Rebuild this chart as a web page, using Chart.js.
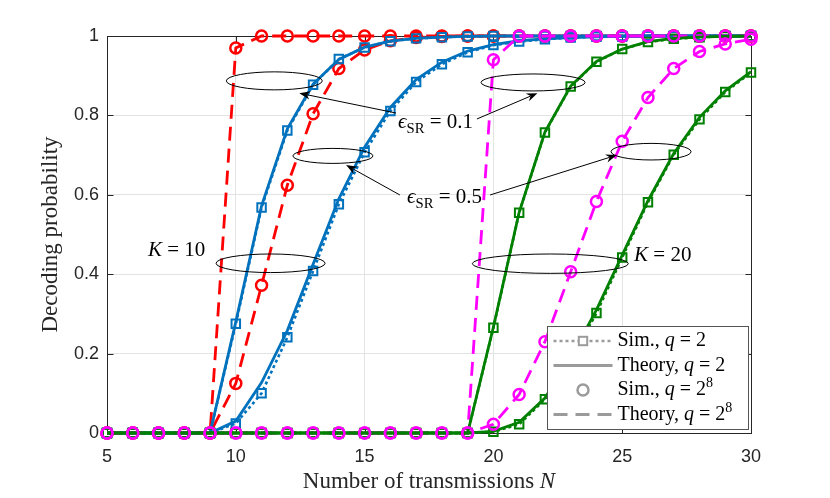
<!DOCTYPE html>
<html><head><meta charset="utf-8">
<script src="https://cdn.jsdelivr.net/npm/chart.js@4.4.0/dist/chart.umd.min.js"></script>
<style>html,body{margin:0;padding:0;background:#fff;}canvas{display:block;}</style>
</head><body>
<canvas id="c" width="830" height="498"></canvas>
<script>
// ---------- data ----------
const N = [5,6,7,8,9,10,11,12,13,14,15,16,17,18,19,20,21,22,23,24,25,26,27,28,29,30];
const xTicks = [5,10,15,20,25,30];
const yTicks = [0,0.2,0.4,0.6,0.8,1];
const yTickLabels = ['0','0.2','0.4','0.6','0.8','1'];

// K = 10, q = 2^8 (theory dashed, sim circles)
const k10q256e01Theory = [0,0,0,0,0,0.97,1,1,1,1,1,1,1,1,1,1,1,1,1,1,1,1,1,1,1,1];
const k10q256e01Sim    = [0,0,0,0,0,0.97,1,1,1,1,1,1,1,1,1,1,1,1,1,1,1,1,1,1,1,1];
const k10q256e05Theory = [0,0,0,0,0,0.125,0.372,0.624,0.804,0.918,0.965,0.988,0.996,0.999,1,1,1,1,1,1,1,1,1,1,1,1];
const k10q256e05Sim    = [0,0,0,0,0,0.125,0.372,0.624,0.804,0.918,0.965,0.988,0.996,0.999,1,1,1,1,1,1,1,1,1,1,1,1];
// K = 10, q = 2 (theory solid, sim dotted squares)
const k10q2e01Theory = [0,0,0,0,0,0.28,0.572,0.766,0.879,0.941,0.972,0.987,0.994,0.997,0.999,1,1,1,1,1,1,1,1,1,1,1];
const k10q2e01Sim    = [0,0,0,0,0,0.275,0.568,0.762,0.877,0.942,0.971,0.987,0.994,0.997,0.999,1,1,1,1,1,1,1,1,1,1,1];
const k10q2e05Theory = [0,0,0,0,0,0.03,0.127,0.258,0.425,0.59,0.72,0.82,0.89,0.934,0.962,0.978,0.988,0.993,0.996,0.998,0.999,1,1,1,1,1];
const k10q2e05Sim    = [0,0,0,0,0,0.024,0.10,0.241,0.408,0.576,0.707,0.811,0.884,0.929,0.959,0.977,0.986,0.992,0.996,0.998,0.999,1,1,1,1,1];
// K = 20, q = 2^8
const k20q256e01Theory = [0,0,0,0,0,0,0,0,0,0,0,0,0,0,0,0.94,1,1,1,1,1,1,1,1,1,1];
const k20q256e01Sim    = [0,0,0,0,0,0,0,0,0,0,0,0,0,0,0,0.94,1,1,1,1,1,1,1,1,1,1];
const k20q256e05Theory = [0,0,0,0,0,0,0,0,0,0,0,0,0,0,0,0.022,0.097,0.23,0.406,0.583,0.735,0.845,0.918,0.961,0.98,0.992];
const k20q256e05Sim    = [0,0,0,0,0,0,0,0,0,0,0,0,0,0,0,0.022,0.097,0.23,0.406,0.583,0.735,0.845,0.918,0.961,0.98,0.992];
// K = 20, q = 2
const k20q2e01Theory = [0,0,0,0,0,0,0,0,0,0,0,0,0,0,0,0.267,0.556,0.758,0.874,0.936,0.967,0.986,0.994,0.997,0.999,1];
const k20q2e01Sim    = [0,0,0,0,0,0,0,0,0,0,0,0,0,0,0,0.265,0.555,0.757,0.873,0.935,0.967,0.985,0.993,0.997,0.999,1];
const k20q2e05Theory = [0,0,0,0,0,0,0,0,0,0,0,0,0,0,0,0.004,0.027,0.088,0.19,0.31,0.448,0.585,0.704,0.795,0.862,0.91];
const k20q2e05Sim    = [0,0,0,0,0,0,0,0,0,0,0,0,0,0,0,0.003,0.022,0.085,0.185,0.302,0.442,0.581,0.701,0.79,0.859,0.908];

const RED='#ff0000', BLUE='#0072bd', MAG='#ff00ff', GREEN='#008000', GRAY='#9b9b9b', AX='#262626';
const SERIF='"Liberation Serif","DejaVu Serif",serif';

// annotations (data coordinates)
const ellipses = [
  {x:11.495,y:0.887,rx:1.863,ry:0.0227},
  {x:13.77,y:0.698,rx:1.553,ry:0.0189},
  {x:11.35,y:0.4275,rx:2.116,ry:0.0234},
  {x:21.54,y:0.883,rx:2.019,ry:0.0214},
  {x:26.12,y:0.7086,rx:1.553,ry:0.0209},
  {x:22.21,y:0.4265,rx:3.028,ry:0.0244}
];
const arrows = [
  {x1:16.22,y1:0.806,x2:12.465,y2:0.856},
  {x1:19.36,y1:0.791,x2:21.71,y2:0.856},
  {x1:16.37,y1:0.5995,x2:14.28,y2:0.675},
  {x1:19.87,y1:0.5995,x2:24.79,y2:0.700}
];
const labels = [
  {x:6.59,y:0.446,segs:[['K','i',1,0],[' = 10','n',1,0]]},
  {x:25.46,y:0.434,segs:[['K','i',1,0],[' = 20','n',1,0]]},
  {x:16.30,y:0.768,segs:[['ϵ','i',1,0],['SR','n',0.7,0.22],[' = 0.1','n',1,0]]},
  {x:16.65,y:0.579,segs:[['ϵ','i',1,0],['SR','n',0.7,0.22],[' = 0.5','n',1,0]]}
];
const legendItems = [
  {kind:'simSq', segs:[['Sim., ','n',1,0],['q','i',1,0],[' = 2','n',1,0]]},
  {kind:'solid', segs:[['Theory, ','n',1,0],['q','i',1,0],[' = 2','n',1,0]]},
  {kind:'circ',  segs:[['Sim., ','n',1,0],['q','i',1,0],[' = 2','n',1,0],['8','n',0.7,-0.38]]},
  {kind:'dash',  segs:[['Theory, ','n',1,0],['q','i',1,0],[' = 2','n',1,0],['8','n',0.7,-0.38]]}
];

// ---------- datasets ----------
const pts = v => N.map((n,i)=>({x:n,y:v[i]}));
const DASH=[14,8], DOT=[3,3];
function theory(v,c,dash){return {data:pts(v),borderColor:c,borderWidth:2.8,borderDash:dash||[],pointRadius:0,pointHoverRadius:0,fill:false,tension:0,clip:false};}
function simSq(v,c){return {data:pts(v),borderColor:c,borderWidth:2.6,borderDash:DOT,pointStyle:'rect',pointRadius:6,pointHoverRadius:6,pointBorderWidth:2,pointBorderColor:c,pointBackgroundColor:'rgba(0,0,0,0)',fill:false,tension:0,clip:false};}
function simCirc(v,c){return {data:pts(v),showLine:false,borderColor:c,pointStyle:'circle',pointRadius:5.5,pointHoverRadius:5.5,pointBorderWidth:2.5,pointBorderColor:c,pointBackgroundColor:'rgba(0,0,0,0)',clip:false};}

// bottom -> top
const drawOrder = [
  theory(k10q256e01Theory,RED,DASH), theory(k10q256e05Theory,RED,DASH),
  simCirc(k10q256e01Sim,RED), simCirc(k10q256e05Sim,RED),
  theory(k10q2e01Theory,BLUE), simSq(k10q2e01Sim,BLUE),
  theory(k10q2e05Theory,BLUE), simSq(k10q2e05Sim,BLUE),
  theory(k20q256e01Theory,MAG,DASH), theory(k20q256e05Theory,MAG,DASH),
  theory(k20q2e01Theory,GREEN), simSq(k20q2e01Sim,GREEN),
  theory(k20q2e05Theory,GREEN), simSq(k20q2e05Sim,GREEN),
  simCirc(k20q256e01Sim,MAG), simCirc(k20q256e05Sim,MAG)
];
const datasets = drawOrder.slice().reverse();

// ---------- helpers ----------
function fontOf(s,size){return (s[1]==='i'?'italic ':'')+(size*s[2]).toFixed(2)+'px '+SERIF;}
function rich(ctx,segs,x,y,size,align){
  const w = segs.map(s=>{ctx.font=fontOf(s,size);return ctx.measureText(s[0]).width;});
  const tot = w.reduce((a,b)=>a+b,0);
  let cx = align==='center'? x-tot/2 : x;
  ctx.textAlign='left'; ctx.textBaseline='alphabetic';
  segs.forEach((s,i)=>{ctx.font=fontOf(s,size);ctx.fillText(s[0],cx,y+s[3]*size);cx+=w[i];});
}
function arrow(ctx,x1,y1,x2,y2){
  const ang=Math.atan2(y2-y1,x2-x1), L=11, W=4.2, back=7.5;
  const bx=x2-L*Math.cos(ang), by=y2-L*Math.sin(ang);
  const nx=x2-back*Math.cos(ang), ny=y2-back*Math.sin(ang);
  ctx.beginPath();ctx.moveTo(x1,y1);ctx.lineTo(nx,ny);ctx.stroke();
  ctx.beginPath();ctx.moveTo(x2,y2);
  ctx.lineTo(bx-W*Math.sin(ang),by+W*Math.cos(ang));
  ctx.lineTo(nx,ny);
  ctx.lineTo(bx+W*Math.sin(ang),by-W*Math.cos(ang));
  ctx.closePath();ctx.fill();
}

const boxPlugin = {
  id:'box',
  beforeDatasetsDraw(chart){
    const {ctx,chartArea:a,scales:{x,y}}=chart;
    ctx.save();ctx.strokeStyle=AX;ctx.lineWidth=1;
    const L=Math.round(a.left)+0.5,R=Math.round(a.right)+0.5,T=Math.round(a.top)+0.5,B=Math.round(a.bottom)+0.5;
    ctx.strokeRect(L,T,R-L,B-T);
    const tl=6;
    ctx.beginPath();
    x.ticks.forEach(t=>{const p=Math.round(x.getPixelForValue(t.value))+0.5;ctx.moveTo(p,B);ctx.lineTo(p,B-tl);ctx.moveTo(p,T);ctx.lineTo(p,T+tl);});
    y.ticks.forEach(t=>{const p=Math.round(y.getPixelForValue(t.value))+0.5;ctx.moveTo(L,p);ctx.lineTo(L+tl,p);ctx.moveTo(R,p);ctx.lineTo(R-tl,p);});
    ctx.stroke();ctx.restore();
  },
  afterDraw(chart){
    const {ctx,chartArea:a,scales:{x,y}}=chart;
    ctx.save();
    // x-axis title
    ctx.fillStyle=AX;
    rich(ctx,[['Number of transmissions ','n',1,0],['N','i',1,0]],(a.left+a.right)/2,a.bottom+55,23,'center');
    // ellipses
    ctx.strokeStyle='#000';ctx.lineWidth=1;
    ellipses.forEach(e=>{
      const cx=x.getPixelForValue(e.x),cy=y.getPixelForValue(e.y);
      const rx=Math.abs(x.getPixelForValue(e.x+e.rx)-cx),ry=Math.abs(y.getPixelForValue(e.y+e.ry)-cy);
      ctx.beginPath();ctx.ellipse(cx,cy,rx,ry,0,0,Math.PI*2);ctx.stroke();
    });
    // arrows
    ctx.fillStyle='#000';
    arrows.forEach(r=>arrow(ctx,x.getPixelForValue(r.x1),y.getPixelForValue(r.y1),x.getPixelForValue(r.x2),y.getPixelForValue(r.y2)));
    // labels
    ctx.fillStyle='#000';
    labels.forEach(l=>rich(ctx,l.segs,x.getPixelForValue(l.x),y.getPixelForValue(l.y),21,'left'));
    // legend
    const bw=201,bh=103,bx=Math.round(a.right)-204+0.5,by=Math.round(a.bottom)-107+0.5;
    ctx.fillStyle='#fff';ctx.fillRect(bx,by,bw,bh);
    ctx.strokeStyle='#555';ctx.lineWidth=1;ctx.strokeRect(bx,by,bw,bh);
    const sx1=bx+6,sx2=bx+65,smid=(sx1+sx2)/2;
    legendItems.forEach((it,i)=>{
      const base=by+19.5+i*24.5, ly=base-5;
      ctx.strokeStyle=GRAY;ctx.lineWidth=2.8;ctx.setLineDash([]);
      if(it.kind==='simSq'){
        ctx.setLineDash(DOT);ctx.lineWidth=2.6;
        ctx.beginPath();ctx.moveTo(sx1,ly);ctx.lineTo(sx2,ly);ctx.stroke();
        ctx.setLineDash([]);ctx.lineWidth=2;
        ctx.fillStyle='#fff';ctx.fillRect(smid-4.2,ly-4.2,8.4,8.4);
        ctx.strokeRect(smid-4.2,ly-4.2,8.4,8.4);
      }else if(it.kind==='solid'){
        ctx.beginPath();ctx.moveTo(sx1,ly);ctx.lineTo(sx2,ly);ctx.stroke();
      }else if(it.kind==='circ'){
        ctx.lineWidth=2.5;ctx.beginPath();ctx.arc(smid,ly,5.5,0,Math.PI*2);ctx.stroke();
      }else{
        ctx.setLineDash(DASH);
        ctx.beginPath();ctx.moveTo(sx1,ly);ctx.lineTo(sx2,ly);ctx.stroke();
        ctx.setLineDash([]);
      }
      ctx.fillStyle='#000';
      rich(ctx,it.segs,bx+70,base,20,'left');
    });
    ctx.restore();
  }
};

new Chart(document.getElementById('c'),{
  type:'line',
  data:{datasets},
  options:{
    responsive:false,animation:false,
    events:[],
    layout:{padding:{left:0,right:79,top:36,bottom:0}},
    plugins:{legend:{display:false},tooltip:{enabled:false}},
    scales:{
      x:{type:'linear',min:5,max:30,
        afterFit(s){s.height=65;},
        afterBuildTicks(s){s.ticks=xTicks.map(v=>({value:v}));},
        ticks:{font:{family:'"Liberation Sans",Arial,sans-serif',size:18},color:AX,padding:13,maxRotation:0,
          callback:(v)=>String(v)},
        grid:{color:'#e3e3e3',lineWidth:1,drawTicks:false},
        border:{display:false},
        title:{display:false}
      },
      y:{type:'linear',min:0,max:1,
        afterFit(s){s.width=107;},
        afterBuildTicks(s){s.ticks=yTicks.map(v=>({value:v}));},
        ticks:{font:{family:'"Liberation Sans",Arial,sans-serif',size:18},color:AX,padding:8,
          callback:(v)=>{const i=yTicks.findIndex(t=>Math.abs(t-v)<1e-9);return i>=0?yTickLabels[i]:String(v);}},
        grid:{color:'#e3e3e3',lineWidth:1,drawTicks:false},
        border:{display:false},
        title:{display:true,text:'Decoding probability',color:AX,font:{family:SERIF,size:23},padding:{top:37,bottom:0}}
      }
    }
  },
  plugins:[boxPlugin]
});
</script>
</body></html>
